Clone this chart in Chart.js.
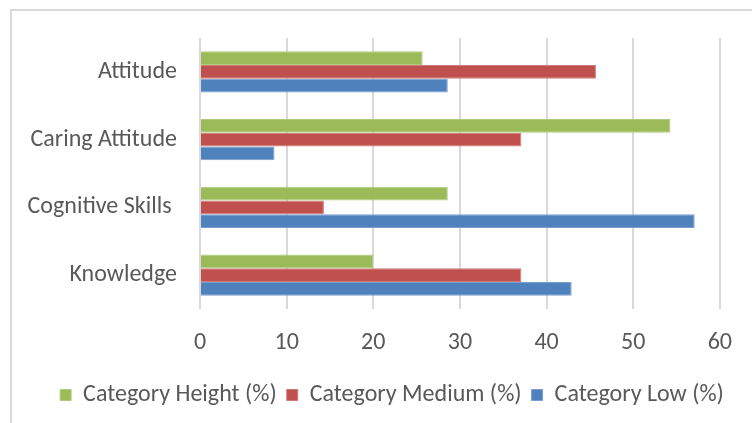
<!DOCTYPE html>
<html>
<head>
<meta charset="utf-8">
<script src="https://cdn.jsdelivr.net/npm/chart.js@4/dist/chart.umd.min.js"></script>
<style>
html,body{margin:0;padding:0;background:#fff;}
#wrap{position:relative;width:752px;height:423px;overflow:hidden;}
#frame{position:absolute;left:10px;top:9px;width:800px;height:500px;border:2px solid #d9d9d9;box-sizing:border-box;}
canvas{position:absolute;left:0;top:0;}
</style>
</head>
<body>
<div id="wrap">
<div id="frame"></div>
<canvas id="c" width="752" height="423"></canvas>
</div>
<script>
const categories = ["Attitude", "Caring Attitude", "Cognitive Skills ", "Knowledge"];
const seriesNames = ["Category Height (%)", "Category Medium (%)", "Category Low (%)"];
const heightValues = [25.7, 54.3, 28.6, 20.0];
const mediumValues = [45.7, 37.1, 14.3, 37.1];
const lowValues = [28.6, 8.6, 57.1, 42.9];
const xTicks = [0, 10, 20, 30, 40, 50, 60];

const FONT = "Carlito, Lato, sans-serif";
const TXT = "#595959";

const legendShift = {
  id: 'legendShift',
  afterLayout(chart) {
    if (chart.legend) { chart.legend.left += 30; chart.legend.right += 30; }
  }
};

new Chart(document.getElementById('c'), {
  type: 'bar',
  data: {
    labels: categories,
    datasets: [
      {label: seriesNames[0], data: heightValues, backgroundColor: '#9BBB59', borderColor: '#b0cb7c', borderWidth: 1},
      {label: seriesNames[1], data: mediumValues, backgroundColor: '#C0504D', borderColor: '#cf7a77', borderWidth: 1},
      {label: seriesNames[2], data: lowValues, backgroundColor: '#4F81BD', borderColor: '#7a9fcf', borderWidth: 1}
    ]
  },
  options: {
    indexAxis: 'y',
    responsive: false,
    animation: false,
    devicePixelRatio: 1,
    categoryPercentage: 0.606,
    barPercentage: 1.0,
    layout: {padding: {left: 0, right: 28, top: 38, bottom: 6}},
    scales: {
      x: {
        min: 0, max: 60,
        afterBuildTicks: (s) => { s.ticks = xTicks.map(v => ({value: v})); },
        afterFit: (s) => { s.height = 64; },
        grid: {color: '#d9d9d9', lineWidth: 2, drawTicks: false},
        border: {display: false},
        ticks: {color: TXT, font: {family: FONT, size: 24}, padding: 20}
      },
      y: {
        afterFit: (s) => { s.width = 200; },
        grid: {display: false, drawTicks: false},
        border: {display: false},
        ticks: {color: TXT, font: {family: FONT, size: 24}, padding: 23}
      }
    },
    plugins: {
      legend: {
        position: 'bottom',
        labels: {color: TXT, font: {family: FONT, size: 24}, boxWidth: 11, boxHeight: 11, padding: 10}
      },
      tooltip: {enabled: false}
    }
  },
  plugins: [legendShift]
});
</script>
</body>
</html>
